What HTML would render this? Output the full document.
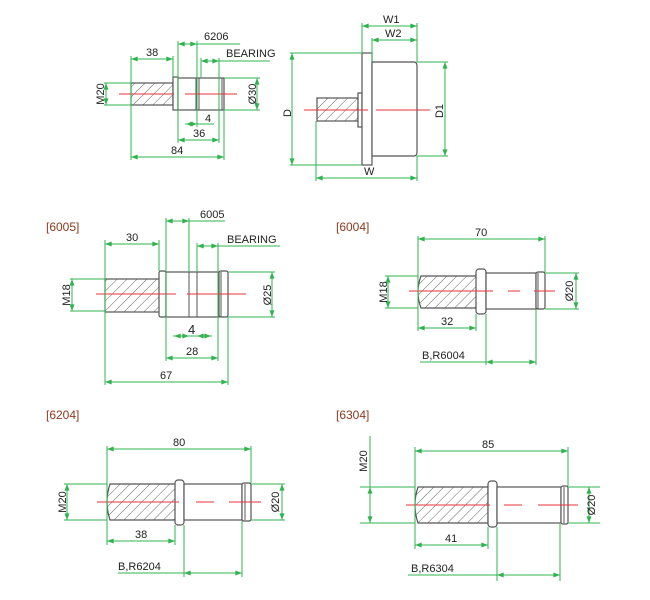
<!DOCTYPE html>
<html><head><meta charset="utf-8"><style>
html,body{margin:0;padding:0;background:#fff}
svg{display:block}
text{font-family:"Liberation Sans","DejaVu Sans",sans-serif;font-size:11px;fill:#222}
.g{stroke:#2fb34f;stroke-width:1;fill:none}
.d{stroke:#2fb34f;stroke-width:1;fill:none;marker-start:url(#a);marker-end:url(#a)}
.o{stroke:#555;stroke-width:1.2;fill:#fff}
.h{stroke:#555;stroke-width:1.2;fill:url(#hat)}
.l{stroke:#555;stroke-width:1;fill:none}
.r{stroke:#e8323a;stroke-width:1;fill:none}
.t{fill:#8a3a1e;font-size:12px}
</style></head><body>
<svg width="650" height="600" viewBox="0 0 650 600" xmlns="http://www.w3.org/2000/svg">
<defs>
<marker id="a" viewBox="0 0 8 6" markerWidth="7" markerHeight="5" refX="8" refY="3" orient="auto-start-reverse" markerUnits="userSpaceOnUse"><path d="M0,0 L8,3 L0,6z" fill="#2fb34f"/></marker>
<pattern id="hat" width="7" height="7" patternUnits="userSpaceOnUse" patternTransform="rotate(45)"><rect width="7" height="7" fill="#fff"/><line x1="0" y1="0" x2="0" y2="7" stroke="#555" stroke-width="0.9"/></pattern>
</defs>

<!-- ===== Section 1 ===== -->
<rect class="h" x="131" y="83" width="42" height="22"/>
<rect class="o" x="173" y="77" width="5" height="33"/>
<rect class="o" x="178" y="78" width="46" height="32"/>
<line class="l" x1="196" y1="78" x2="196" y2="110"/><line class="l" x1="199" y1="78" x2="199" y2="110"/>
<line class="l" x1="219" y1="78" x2="219" y2="110"/><line class="l" x1="222" y1="78" x2="222" y2="110"/>
<line class="r" x1="119" y1="94" x2="174" y2="94"/><line class="r" x1="185" y1="94" x2="237" y2="94"/>
<!-- ext -->
<line class="g" x1="131" y1="56" x2="131" y2="160"/>
<line class="g" x1="173" y1="56" x2="173" y2="77"/>
<line class="g" x1="178" y1="41" x2="178" y2="143"/>
<line class="g" x1="197" y1="41" x2="197" y2="127"/>
<line class="g" x1="201" y1="58" x2="201" y2="78"/>
<line class="g" x1="219" y1="58" x2="219" y2="143"/>
<line class="g" x1="224" y1="110" x2="224" y2="160"/>
<line class="g" x1="104" y1="83" x2="131" y2="83"/><line class="g" x1="104" y1="105" x2="131" y2="105"/>
<line class="g" x1="224" y1="78" x2="260" y2="78"/><line class="g" x1="224" y1="110" x2="260" y2="110"/>
<line class="d" x1="131" y1="59" x2="173" y2="59"/><text x="146" y="56">38</text>
<line class="d" x1="178" y1="44" x2="197" y2="44"/><line class="g" x1="197" y1="44" x2="240" y2="44"/><text x="204" y="40">6206</text>
<line class="d" x1="201" y1="61" x2="219" y2="61"/><line class="g" x1="219" y1="61" x2="270" y2="61"/><text x="226" y="57">BEARING</text>
<line class="d" x1="106" y1="83" x2="106" y2="105"/><text transform="translate(104,94) rotate(-90)" text-anchor="middle">M20</text>
<line class="d" x1="257" y1="78" x2="257" y2="110"/><text transform="translate(256,94) rotate(-90)" text-anchor="middle">Ø30</text>
<line class="g" x1="185" y1="124" x2="214" y2="124"/><line class="d" x1="186" y1="124" x2="197" y2="124"/><text x="205" y="122">4</text>
<line class="d" x1="178" y1="140" x2="219" y2="140"/><text x="193" y="137">36</text>
<line class="d" x1="131" y1="157" x2="224" y2="157"/><text x="171" y="154">84</text>

<!-- ===== Section 2 ===== -->
<rect class="h" x="317" y="98" width="41" height="23"/>
<rect class="o" x="358" y="93" width="4" height="34"/>
<rect class="o" x="362" y="53" width="10" height="112"/>
<path class="o" d="M372,62 H414 Q417,62 417,66 V152 Q417,156 414,156 H372 Z"/>
<line class="r" x1="304" y1="110" x2="368" y2="110"/><line class="r" x1="376" y1="110" x2="430" y2="110"/>
<line class="g" x1="362" y1="23" x2="362" y2="53"/>
<line class="g" x1="417" y1="23" x2="417" y2="62"/>
<line class="g" x1="372" y1="38" x2="372" y2="62"/>
<line class="g" x1="290" y1="53" x2="362" y2="53"/><line class="g" x1="290" y1="165" x2="362" y2="165"/>
<line class="g" x1="417" y1="62" x2="448" y2="62"/><line class="g" x1="417" y1="156" x2="448" y2="156"/>
<line class="g" x1="316" y1="121" x2="316" y2="181"/><line class="g" x1="417" y1="156" x2="417" y2="181"/>
<line class="d" x1="362" y1="26" x2="417" y2="26"/><text x="383" y="23">W1</text>
<line class="d" x1="372" y1="40" x2="417" y2="40"/><text x="385" y="37">W2</text>
<line class="d" x1="292" y1="53" x2="292" y2="165"/><text transform="translate(291,113) rotate(-90)" text-anchor="middle">D</text>
<line class="d" x1="445" y1="62" x2="445" y2="156"/><text transform="translate(443,111) rotate(-90)" text-anchor="middle">D1</text>
<line class="d" x1="316" y1="178" x2="417" y2="178"/><text x="364" y="175">W</text>

<!-- ===== Section 3 [6005] ===== -->
<text class="t" x="46" y="231">[6005]</text>
<rect class="h" x="105" y="279" width="55" height="33"/>
<rect class="o" x="159" y="271" width="7" height="46" rx="2"/>
<rect class="o" x="166" y="272" width="53" height="45"/>
<rect class="o" x="219" y="271" width="9" height="46" rx="2"/>
<line class="l" x1="189" y1="272" x2="189" y2="317"/><line class="l" x1="197" y1="272" x2="197" y2="317"/>
<line class="l" x1="221" y1="272" x2="221" y2="317"/>
<line class="r" x1="96" y1="294" x2="176" y2="294"/><line class="r" x1="187" y1="294" x2="246" y2="294"/>
<line class="g" x1="105" y1="240" x2="105" y2="385"/>
<line class="g" x1="159" y1="240" x2="159" y2="271"/>
<line class="g" x1="166" y1="218" x2="166" y2="361"/>
<line class="g" x1="189" y1="218" x2="189" y2="272"/>
<line class="g" x1="197" y1="243" x2="197" y2="272"/>
<line class="g" x1="218" y1="243" x2="218" y2="361"/>
<line class="g" x1="228" y1="317" x2="228" y2="385"/>
<line class="g" x1="70" y1="279" x2="105" y2="279"/><line class="g" x1="70" y1="311" x2="105" y2="311"/>
<line class="g" x1="228" y1="272" x2="275" y2="272"/><line class="g" x1="228" y1="317" x2="275" y2="317"/>
<line class="d" x1="105" y1="244" x2="159" y2="244"/><text x="126" y="241">30</text>
<line class="d" x1="166" y1="221" x2="189" y2="221"/><line class="g" x1="189" y1="221" x2="225" y2="221"/><text x="200" y="218">6005</text>
<line class="d" x1="197" y1="246" x2="218" y2="246"/><line class="g" x1="218" y1="246" x2="280" y2="246"/><text x="227" y="243">BEARING</text>
<line class="d" x1="72" y1="279" x2="72" y2="311"/><text transform="translate(70,295) rotate(-90)" text-anchor="middle">M18</text>
<line class="d" x1="272" y1="272" x2="272" y2="317"/><text transform="translate(271,295) rotate(-90)" text-anchor="middle">Ø25</text>
<line class="g" x1="173" y1="336" x2="212" y2="336"/><line class="d" x1="174" y1="336" x2="189" y2="336"/><line class="d" x1="211" y1="336" x2="197" y2="336"/><text x="188" y="334" style="font-size:13px">4</text>
<line class="d" x1="166" y1="358" x2="218" y2="358"/><text x="186" y="355">28</text>
<line class="d" x1="105" y1="382" x2="228" y2="382"/><text x="160" y="379">67</text>

<!-- ===== Section 4 [6004] ===== -->
<text class="t" x="336" y="231">[6004]</text>
<path class="h" d="M421,276 H477 V308 H421 Q418,300 418,292 Q418,284 421,276Z"/>
<rect class="o" x="476" y="269" width="10" height="45" rx="3"/>
<rect class="o" x="486" y="273" width="50" height="36"/>
<rect class="o" x="536" y="272" width="9" height="37" rx="2"/>
<line class="l" x1="538" y1="273" x2="538" y2="309"/>
<line class="r" x1="409" y1="291" x2="493" y2="291"/><line class="r" x1="508" y1="291" x2="520" y2="291"/><line class="r" x1="534" y1="291" x2="555" y2="291"/>
<line class="g" x1="418" y1="236" x2="418" y2="331"/>
<line class="g" x1="545" y1="236" x2="545" y2="272"/>
<line class="g" x1="476" y1="314" x2="476" y2="331"/>
<line class="g" x1="486" y1="314" x2="486" y2="365"/>
<line class="g" x1="536" y1="309" x2="536" y2="365"/>
<line class="g" x1="385" y1="276" x2="418" y2="276"/><line class="g" x1="385" y1="308" x2="418" y2="308"/>
<line class="g" x1="545" y1="273" x2="579" y2="273"/><line class="g" x1="545" y1="309" x2="579" y2="309"/>
<line class="d" x1="418" y1="239" x2="545" y2="239"/><text x="475" y="236">70</text>
<line class="d" x1="388" y1="276" x2="388" y2="308"/><text transform="translate(387,292) rotate(-90)" text-anchor="middle">M18</text>
<line class="d" x1="576" y1="273" x2="576" y2="309"/><text transform="translate(573,291) rotate(-90)" text-anchor="middle">Ø20</text>
<line class="d" x1="418" y1="328" x2="476" y2="328"/><text x="441" y="325">32</text>
<line class="g" x1="420" y1="362" x2="486" y2="362"/><line class="d" x1="486" y1="362" x2="536" y2="362"/><text x="422" y="359">B,R6004</text>

<!-- ===== Section 5 [6204] ===== -->
<text class="t" x="46" y="419">[6204]</text>
<path class="h" d="M110,484 H176 V520 H110 Q107,511 107,502 Q107,493 110,484Z"/>
<rect class="o" x="175" y="480" width="9" height="45" rx="3"/>
<rect class="o" x="184" y="484" width="58" height="36"/>
<rect class="o" x="242" y="483" width="9" height="38" rx="2"/>
<line class="l" x1="245" y1="484" x2="245" y2="520"/>
<line class="r" x1="97" y1="502" x2="179" y2="502"/><line class="r" x1="196" y1="502" x2="214" y2="502"/><line class="r" x1="229" y1="502" x2="261" y2="502"/>
<line class="g" x1="107" y1="446" x2="107" y2="545"/>
<line class="g" x1="251" y1="446" x2="251" y2="483"/>
<line class="g" x1="175" y1="525" x2="175" y2="545"/>
<line class="g" x1="184" y1="525" x2="184" y2="577"/>
<line class="g" x1="242" y1="521" x2="242" y2="577"/>
<line class="g" x1="64" y1="484" x2="107" y2="484"/><line class="g" x1="64" y1="520" x2="107" y2="520"/>
<line class="g" x1="251" y1="484" x2="285" y2="484"/><line class="g" x1="251" y1="520" x2="285" y2="520"/>
<line class="d" x1="107" y1="449" x2="251" y2="449"/><text x="173" y="446">80</text>
<line class="d" x1="67" y1="484" x2="67" y2="520"/><text transform="translate(66,502) rotate(-90)" text-anchor="middle">M20</text>
<line class="d" x1="282" y1="484" x2="282" y2="520"/><text transform="translate(279,502) rotate(-90)" text-anchor="middle">Ø20</text>
<line class="d" x1="107" y1="541" x2="175" y2="541"/><text x="135" y="538">38</text>
<line class="g" x1="118" y1="573" x2="184" y2="573"/><line class="d" x1="184" y1="573" x2="242" y2="573"/><text x="118" y="570">B,R6204</text>

<!-- ===== Section 6 [6304] ===== -->
<text class="t" x="336" y="419">[6304]</text>
<path class="h" d="M418,487 H488 V523 H418 Q415,514 415,505 Q415,496 418,487Z"/>
<rect class="o" x="488" y="481" width="9" height="46" rx="3"/>
<rect class="o" x="497" y="487" width="64" height="36"/>
<rect class="o" x="561" y="486" width="7" height="38" rx="2"/>
<line class="l" x1="564" y1="487" x2="564" y2="523"/>
<line class="r" x1="406" y1="505" x2="490" y2="505"/><line class="r" x1="504" y1="505" x2="522" y2="505"/><line class="r" x1="538" y1="505" x2="578" y2="505"/>
<line class="g" x1="415" y1="447" x2="415" y2="549"/>
<line class="g" x1="568" y1="447" x2="568" y2="486"/>
<line class="g" x1="488" y1="527" x2="488" y2="549"/>
<line class="g" x1="497" y1="527" x2="497" y2="581"/>
<line class="g" x1="560" y1="524" x2="560" y2="581"/>
<line class="g" x1="360" y1="487" x2="415" y2="487"/><line class="g" x1="360" y1="523" x2="415" y2="523"/>
<line class="g" x1="568" y1="487" x2="600" y2="487"/><line class="g" x1="568" y1="523" x2="600" y2="523"/>
<line class="g" x1="370" y1="436" x2="370" y2="487"/>
<line class="d" x1="415" y1="451" x2="568" y2="451"/><text x="482" y="448">85</text>
<line class="d" x1="370" y1="487" x2="370" y2="523"/><text transform="translate(367,461) rotate(-90)" text-anchor="middle">M20</text>
<line class="d" x1="589" y1="487" x2="589" y2="523"/><text transform="translate(595,505) rotate(-90)" text-anchor="middle">Ø20</text>
<line class="d" x1="415" y1="545" x2="488" y2="545"/><text x="445" y="542">41</text>
<line class="g" x1="408" y1="575" x2="497" y2="575"/><line class="d" x1="497" y1="575" x2="560" y2="575"/><text x="411" y="572">B,R6304</text>
</svg>
</body></html>
